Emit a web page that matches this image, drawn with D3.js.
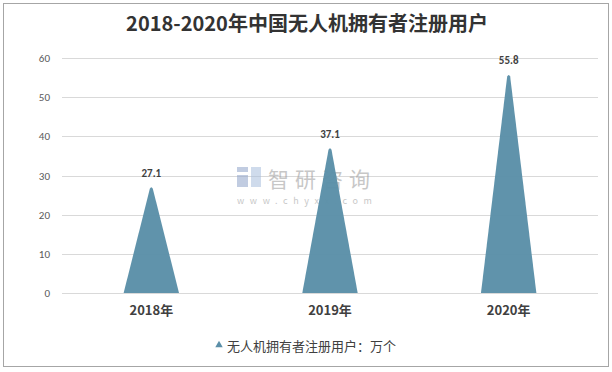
<!DOCTYPE html>
<html>
<head>
<meta charset="utf-8">
<script src="https://cdn.jsdelivr.net/npm/d3@7"></script>
<style>
  body { margin: 0; background: #fff; }
  svg text { font-family: "Microsoft YaHei", "Noto Sans CJK SC", "DejaVu Sans", sans-serif; }
</style>
</head>
<body>
<div id="chart"></div>
<script>
"use strict";

var years = ["2018年", "2019年", "2020年"];
var users = [27.1, 37.1, 55.8];
var yTicks = [0, 10, 20, 30, 40, 50, 60];
var titleText = "2018-2020年中国无人机拥有者注册用户";
var legendText = "无人机拥有者注册用户：万个";

var W = 612, H = 372;
var margin = { left: 62, right: 14, top: 58, bottom: 79 };
var fill = "#5b8fa8";

var svg = d3.select("#chart").append("svg")
    .attr("width", W)
    .attr("height", H);

// outer frame
svg.append("rect")
    .attr("x", 3.5).attr("y", 3.5)
    .attr("width", W - 7).attr("height", H - 9)
    .attr("fill", "#fff")
    .attr("stroke", "#a6a6a6");

var x = d3.scaleBand()
    .domain(years)
    .range([margin.left, W - margin.right]);

var y = d3.scaleLinear()
    .domain([0, 60])
    .range([H - margin.bottom, margin.top]);

// gridlines
svg.append("g").selectAll("line")
    .data(yTicks)
    .enter().append("line")
    .attr("x1", margin.left).attr("x2", W - margin.right)
    .attr("y1", function (d) { return Math.round(y(d)) + 0.5; })
    .attr("y2", function (d) { return Math.round(y(d)) + 0.5; })
    .attr("stroke", "#d9d9d9");

// y axis labels
var yAxis = d3.axisLeft(y).tickValues(yTicks).tickSize(0).tickPadding(10);
var gy = svg.append("g")
    .attr("transform", "translate(" + (margin.left - 2) + ",0)")
    .call(yAxis);
gy.select(".domain").remove();
gy.selectAll("text")
    .attr("fill", "#595959")
    .style("font-size", "11px")
    .style("font-family", "Calibri, Carlito, 'Liberation Sans', sans-serif");

// watermark
var wm = svg.append("g").attr("opacity", 0.55);
wm.append("rect").attr("x", 237).attr("y", 167).attr("width", 11).attr("height", 5).attr("fill", "#8fa3c9");
wm.append("rect").attr("x", 237).attr("y", 175).attr("width", 11).attr("height", 12).attr("fill", "#8fa3c9");
wm.append("rect").attr("x", 251).attr("y", 167).attr("width", 10).attr("height", 20).attr("fill", "#a9bede");
wm.append("text")
    .attr("x", 268).attr("y", 187)
    .attr("fill", "#9a9a9a")
    .style("font-size", "21px")
    .style("letter-spacing", "6px")
    .text("智研咨询");
wm.append("text")
    .attr("x", 237).attr("y", 204)
    .attr("fill", "#9a9a9a")
    .style("font-size", "9px")
    .style("letter-spacing", "5.6px")
    .text("www.chyxx.com");

// triangles
var halfBase = x.bandwidth() * 0.155;
svg.append("g").selectAll("path")
    .data(users)
    .enter().append("path")
    .attr("d", function (d, i) {
        var cx = x(years[i]) + x.bandwidth() / 2;
        var b = y(0), t = y(d);
        var p = d3.path();
        p.moveTo(cx - halfBase, b);
        p.lineTo(cx - 1.5, t + 2);
        p.quadraticCurveTo(cx, t - 1, cx + 1.5, t + 2);
        p.lineTo(cx + halfBase, b);
        p.closePath();
        return p.toString();
    })
    .attr("fill", fill)
    .attr("opacity", 0.97);

// data labels
svg.append("g").selectAll("text")
    .data(users)
    .enter().append("text")
    .attr("x", function (d, i) { return x(years[i]) + x.bandwidth() / 2; })
    .attr("y", function (d) { return y(d) - 10; })
    .attr("text-anchor", "middle")
    .attr("fill", "#404040")
    .style("font-weight", "bold")
    .style("font-size", "11px")
    .style("font-family", "Calibri, Carlito, 'Liberation Sans', sans-serif")
    .text(function (d) { return d.toFixed(1); });

// x axis labels
var xAxis = d3.axisBottom(x).tickSize(0).tickPadding(13);
var gx = svg.append("g")
    .attr("transform", "translate(0," + y(0) + ")")
    .call(xAxis);
gx.select(".domain").remove();
gx.selectAll("text")
    .attr("fill", "#404040")
    .style("font-weight", "bold")
    .style("font-size", "13px");

// title
svg.append("text")
    .attr("x", W / 2 + 1).attr("y", 31)
    .attr("text-anchor", "middle")
    .attr("fill", "#333")
    .style("font-weight", "bold")
    .style("font-size", "20px")
    .text(titleText);

// legend
var lg = svg.append("g").attr("transform", "translate(219,346)");
lg.append("path")
    .attr("d", d3.symbol().type(d3.symbolTriangle).size(24)())
    .attr("transform", "translate(0,-1)")
    .attr("fill", fill);
lg.append("text")
    .attr("x", 8).attr("y", 4.5)
    .attr("fill", "#404040")
    .style("font-size", "13px")
    .text(legendText);
</script>
</body>
</html>
